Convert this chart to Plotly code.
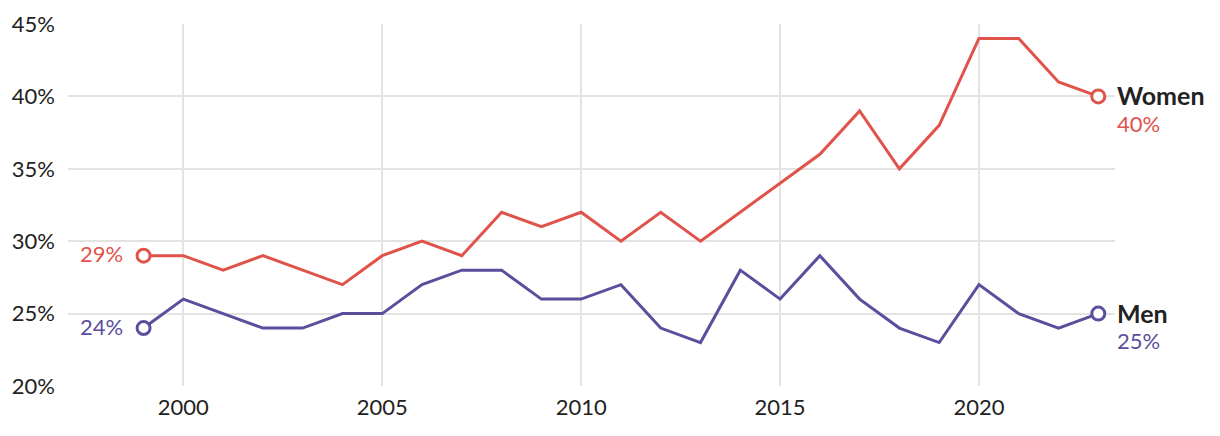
import plotly.graph_objects as go

years = list(range(1999, 2024))
women = [29, 29, 28, 29, 28, 27, 29, 30, 29, 32, 31, 32, 30, 32, 30, 32, 34, 36, 39, 35, 38, 44, 44, 41, 40]
men = [24, 26, 25, 24, 24, 25, 25, 27, 28, 28, 26, 26, 27, 24, 23, 28, 26, 29, 26, 24, 23, 27, 25, 24, 25]
y_ticks = [20, 25, 30, 35, 40, 45]
y_tick_labels = ["20%", "25%", "30%", "35%", "40%", "45%"]
x_ticks = [2000, 2005, 2010, 2015, 2020]

RED = "#e0534a"
PURPLE = "#5b4e9c"
FONT = "Lato"

fig = go.Figure()
for name, vals, col in [("Women", women, RED), ("Men", men, PURPLE)]:
    fig.add_trace(go.Scatter(x=years, y=vals, mode="lines", line=dict(color=col, width=3),
                             name=name, showlegend=False, hoverinfo="skip"))
    fig.add_trace(go.Scatter(x=[years[0], years[-1]], y=[vals[0], vals[-1]], mode="markers",
                             marker=dict(size=13, color="white", line=dict(color=col, width=3)),
                             showlegend=False, hoverinfo="skip"))
    fig.add_annotation(x=years[0], y=vals[0], text=f"{vals[0]}%", showarrow=False,
                       xanchor="right", xshift=-19, yshift=2, font=dict(family=FONT, size=22, color=col))
    fig.add_annotation(x=years[-1], y=vals[-1], text=f"<b>{name}</b>", showarrow=False,
                       xanchor="left", xshift=17, yshift=1, font=dict(family=FONT, size=25, color="#222222"))
    fig.add_annotation(x=years[-1], y=vals[-1], text=f"{vals[-1]}%", showarrow=False,
                       xanchor="left", xshift=17, yshift=-27, font=dict(family=FONT, size=22, color=col))

fig.update_layout(
    width=1204, height=420,
    margin=dict(l=60, r=97, t=16, b=42),
    plot_bgcolor="white", paper_bgcolor="white",
    font=dict(family=FONT, size=22, color="#222222"),
    xaxis=dict(range=[1997.1, 2023.42], tickvals=x_ticks, showgrid=True, gridcolor="#e3e3e3",
               gridwidth=2, zeroline=False, showline=False, ticks="", ticklabelstandoff=6,
               automargin=False),
    yaxis=dict(range=[20, 45], tickvals=y_ticks, ticktext=y_tick_labels, showgrid=True,
               gridcolor="#e3e3e3", gridwidth=2, zeroline=False, showline=False, ticks="",
               ticklabelstandoff=12, automargin=False),
)
fig.write_html("out.html")
